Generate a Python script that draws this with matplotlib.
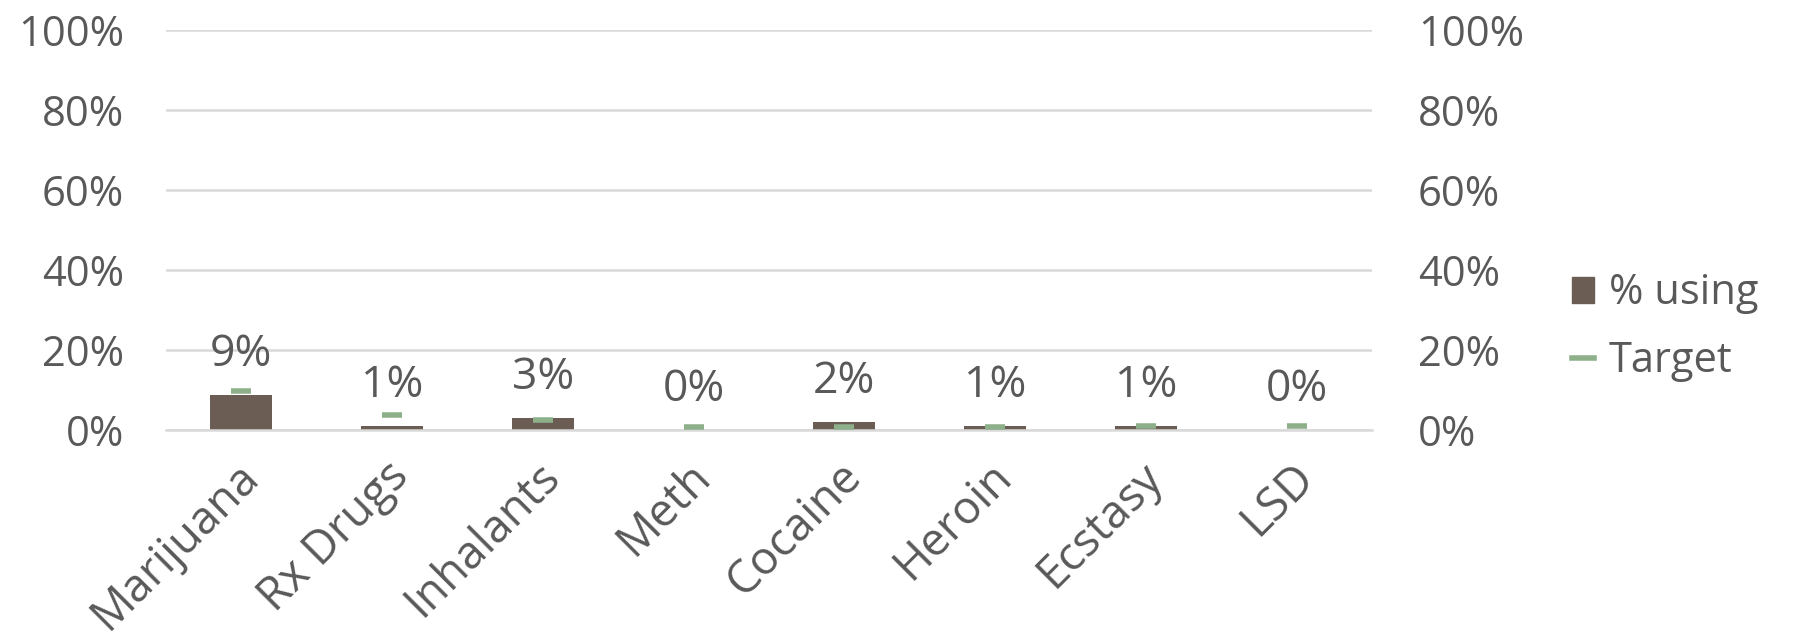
import matplotlib
matplotlib.use("Agg")
import matplotlib.pyplot as plt
import matplotlib.transforms as mtransforms
from matplotlib.lines import Line2D
from matplotlib.patches import Patch
import numpy as np

categories = ["Marijuana", "Rx Drugs", "Inhalants", "Meth", "Cocaine", "Heroin", "Ecstasy", "LSD"]
pct_using = [8.8, 0.9, 2.9, 0.0, 1.9, 0.9, 0.9, 0.0]
pct_labels = ["9%", "1%", "3%", "0%", "2%", "1%", "1%", "0%"]
target = [9.8, 3.8, 2.5, 0.8, 0.8, 0.8, 1.1, 1.0]
yticks = [0, 20, 40, 60, 80, 100]
ytick_labels = ["0%", "20%", "40%", "60%", "80%", "100%"]

TXT = "#595959"
BAR = "#6B5D53"
GRN = "#8DB08B"
GRID = "#D9D9D9"
plt.rcParams['font.family'] = ['Open Sans', 'DejaVu Sans']

fig = plt.figure(figsize=(17.93, 6.40), dpi=100)
ax = fig.add_axes([166/1793, 1-430/640, (1372-166)/1793, 400/640])
x = np.arange(len(categories))
bars = ax.bar(x, pct_using, width=0.41, color=BAR, zorder=2)
ax.plot(x, target, linestyle='none', marker='_', markersize=14.5, mew=4, color=GRN, zorder=3)
for xi, v, lab in zip(x, pct_using, pct_labels):
    ax.annotate(lab, (xi, v), xytext=(0, 13), textcoords='offset points',
                ha='center', va='bottom', fontsize=32, color=TXT)

ax.set_xlim(-0.5, len(categories) - 0.5)
ax.set_ylim(0, 100)
ax.set_yticks(yticks)
ax.set_yticklabels(ytick_labels)
ax.yaxis.grid(True, color=GRID, linewidth=1.8, zorder=0)
ax.set_axisbelow(True)
for s in ['top', 'right', 'left']:
    ax.spines[s].set_visible(False)
ax.spines['bottom'].set_color(GRID)
ax.spines['bottom'].set_linewidth(1.8)
ax.tick_params(axis='y', length=0, pad=30, labelsize=30, labelcolor=TXT)
ax.tick_params(axis='x', length=0, pad=17, labelsize=33, labelcolor=TXT)
ax.set_xticks(x)
ax.set_xticklabels(categories, rotation=45, ha='right', rotation_mode='anchor')
offset = mtransforms.ScaledTranslation(-6/100, 0, fig.dpi_scale_trans)
for lbl in ax.get_xticklabels():
    lbl.set_transform(lbl.get_transform() + offset)

ax2 = ax.twinx()
ax2.set_ylim(0, 100)
ax2.set_yticks(yticks)
ax2.set_yticklabels(ytick_labels)
for s in ax2.spines.values():
    s.set_visible(False)
ax2.tick_params(axis='y', length=0, pad=33, labelsize=30, labelcolor=TXT)

handles = [Patch(facecolor=BAR, edgecolor=BAR),
           Line2D([0], [0], color=GRN, linewidth=4, marker=None)]
leg = fig.legend(handles, ["% using", "Target"], loc='center left',
                 bbox_to_anchor=(1534/1793, 1-327/640), frameon=False,
                 fontsize=30, labelcolor=TXT, handlelength=0.55, handleheight=0.6,
                 handletextpad=0.35, labelspacing=0.6)

fig.savefig("out.png", dpi=100)
